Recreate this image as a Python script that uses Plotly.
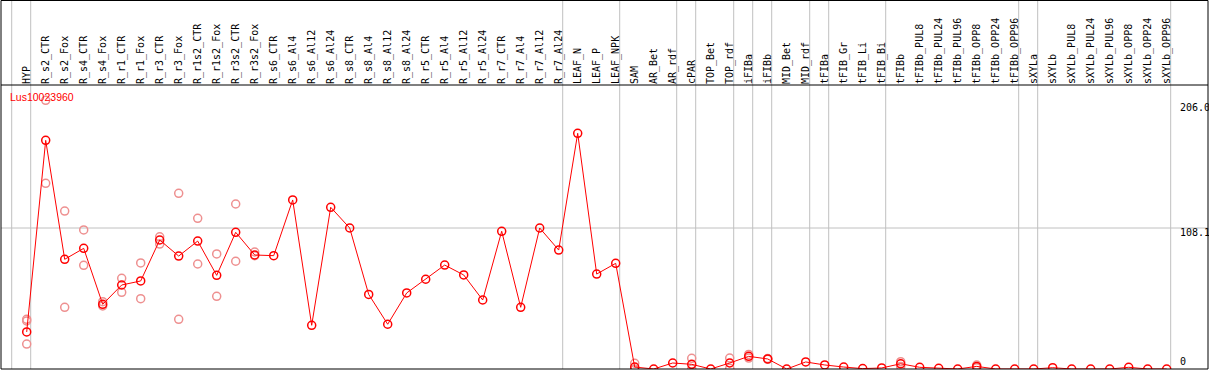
import plotly.graph_objects as go

# ---------------- data ----------------
categories = [
    "HYP",
    "R_s2_CTR", "R_s2_Fox", "R_s4_CTR", "R_s4_Fox", "R_r1_CTR", "R_r1_Fox",
    "R_r3_CTR", "R_r3_Fox", "R_r1s2_CTR", "R_r1s2_Fox", "R_r3s2_CTR", "R_r3s2_Fox",
    "R_s6_CTR", "R_s6_Al4", "R_s6_Al12", "R_s6_Al24",
    "R_s8_CTR", "R_s8_Al4", "R_s8_Al12", "R_s8_Al24",
    "R_r5_CTR", "R_r5_Al4", "R_r5_Al12", "R_r5_Al24",
    "R_r7_CTR", "R_r7_Al4", "R_r7_Al12", "R_r7_Al24",
    "LEAF_N", "LEAF_P", "LEAF_NPK",
    "SAM", "AR_Bet", "AR_rdf",
    "cPAR",
    "TOP_Bet", "TOP_rdf",
    "iFIBa",
    "iFIBb",
    "MID_Bet", "MID_rdf",
    "tFIBa",
    "tFIB_Gr", "tFIB_Li", "tFIB_Bi",
    "tFIBb", "tFIBb_PUL8", "tFIBb_PUL24", "tFIBb_PUL96", "tFIBb_OPP8", "tFIBb_OPP24", "tFIBb_OPP96",
    "sXYLa",
    "sXYLb", "sXYLb_PUL8", "sXYLb_PUL24", "sXYLb_PUL96", "sXYLb_OPP8", "sXYLb_OPP24", "sXYLb_OPP96",
]

mean_values = [
    28.4,
    175.3, 84.1, 92.5, 49.6, 64.4, 67.5,
    98.9, 86.6, 98.1, 71.8, 104.8, 87.4,
    86.9, 129.6, 33.5, 124.0,
    108.1, 57.2, 34.3, 58.3,
    68.8, 79.7, 72.1, 52.9,
    105.6, 47.3, 108.1, 91.2,
    180.7, 72.8, 81.0,
    1.5, 0.0, 4.6,
    3.6,
    0.0, 4.6,
    9.7,
    7.7,
    0.0, 5.4,
    3.1,
    1.5, 0.3, 0.8,
    4.0, 1.3, 0.5, 0.0, 2.0, 0.0, 0.0,
    0.0,
    1.0, 0.0, 0.0, 0.0, 1.3, 0.0, 0.0,
]

rep_categories = [
    "HYP", "HYP", "HYP",
    "R_s2_CTR", "R_s2_CTR",
    "R_s2_Fox", "R_s2_Fox",
    "R_s4_CTR", "R_s4_CTR",
    "R_s4_Fox", "R_s4_Fox",
    "R_r1_CTR", "R_r1_CTR",
    "R_r1_Fox", "R_r1_Fox",
    "R_r3_CTR", "R_r3_CTR",
    "R_r3_Fox", "R_r3_Fox",
    "R_r1s2_CTR", "R_r1s2_CTR",
    "R_r1s2_Fox", "R_r1s2_Fox",
    "R_r3s2_CTR", "R_r3s2_CTR",
    "R_r3s2_Fox", "R_r3s2_Fox",
    "SAM", "SAM",
    "cPAR", "cPAR",
    "TOP_rdf", "TOP_rdf",
    "iFIBa", "iFIBa",
    "iFIBb", "iFIBb",
    "tFIBb", "tFIBb",
    "tFIBb_OPP8", "tFIBb_OPP8",
]
rep_values = [
    38.1, 36.8, 19.1,
    206.0, 142.4,
    121.1, 47.3,
    106.6, 79.5,
    51.6, 48.3,
    69.5, 58.8,
    81.3, 53.9,
    101.4, 95.8,
    134.7, 38.1,
    115.5, 80.5,
    88.2, 55.7,
    126.5, 82.6,
    89.7, 86.9,
    4.4, 0.0,
    8.2, 0.0,
    8.4, 0.5,
    11.2, 8.4,
    8.0, 7.4,
    5.6, 2.0,
    3.0, 1.0,
]

group_sizes = [1, 28, 3, 3, 1, 2, 1, 1, 2, 1, 3, 7, 1, 7]
gene_id = "Lus10023960"
ref_values = [206.0, 108.1, 0]
ref_labels = ["206.0", "108.1", "0"]
ref_label_shift = [-6.7, -4.5, 7.3]

# ---------------- layout geometry ----------------
W, H = 1209, 370
M_L, M_R, M_T, M_B = 1, 1, 85, 1
X_RANGE = [-1.3526, 62.174]
Y_RANGE = [0, 217.74]
plot_w = W - M_L - M_R
plot_h = H - M_T - M_B
top_paper = 1 + (M_T - 0.5) / plot_h

FONT = "DejaVu Sans Mono"
GRAY = "#c0c0c0"
RED = "#ff0000"
FADED = "#ee9090"

fig = go.Figure()

fig.add_trace(go.Scatter(
    x=rep_categories, y=rep_values, mode="markers",
    marker=dict(symbol="circle-open", size=8, color=FADED, line=dict(width=1.5, color=FADED)),
    hoverinfo="skip", showlegend=False,
))
fig.add_trace(go.Scatter(
    x=categories, y=mean_values, mode="lines+markers",
    line=dict(color=RED, width=1),
    marker=dict(symbol="circle-open", size=8, color=RED, line=dict(width=1.5, color=RED)),
    showlegend=False,
))

shapes = []
ends = [-1]
acc = 0
for g in group_sizes:
    acc += g
    ends.append(acc - 1)
for e in ends:
    shapes.append(dict(type="line", xref="x", yref="paper", x0=e + 0.21, x1=e + 0.21,
                       y0=0, y1=top_paper, line=dict(color=GRAY, width=1), layer="below"))
shapes.append(dict(type="line", xref="paper", yref="y", x0=0, x1=1, y0=ref_values[1], y1=ref_values[1],
                   line=dict(color=GRAY, width=1), layer="below"))
shapes.append(dict(type="line", xref="paper", yref="paper", x0=0, x1=1, y0=1, y1=1,
                   line=dict(color="black", width=1), layer="above"))
shapes.append(dict(type="rect", xref="paper", yref="paper", x0=0, x1=1, y0=0, y1=top_paper,
                   line=dict(color="black", width=1), fillcolor="rgba(0,0,0,0)", layer="above"))

annotations = [dict(
    text=gene_id, xref="paper", yref="paper", x=(8 - M_L) / plot_w,
    y=(H - M_B - 97.3) / plot_h, xanchor="left", yanchor="middle", showarrow=False,
    font=dict(family="Liberation Sans", size=10.5, color=RED),
)]
for v, t, s in zip(ref_values, ref_labels, ref_label_shift):
    annotations.append(dict(
        text=t, xref="paper", yref="y", x=(1178 - M_L) / plot_w, y=v,
        xanchor="left", yanchor="middle", yshift=s, showarrow=False,
        font=dict(family=FONT, size=10, color="black"),
    ))

fig.update_layout(
    template="none",
    width=W, height=H,
    margin=dict(l=M_L, r=M_R, t=M_T, b=M_B, pad=0, autoexpand=False),
    paper_bgcolor="white", plot_bgcolor="white",
    xaxis=dict(type="category", categoryorder="array", categoryarray=categories,
               range=X_RANGE, side="top", tickangle=-90, ticks="", showgrid=False,
               zeroline=False, showline=False, automargin=False,
               tickfont=dict(family=FONT, size=10, color="black")),
    yaxis=dict(range=Y_RANGE, showgrid=False, zeroline=False, showline=False,
               showticklabels=False, ticks="", automargin=False),
    shapes=shapes, annotations=annotations,
    showlegend=False,
)

fig.write_html(
    "out.html",
    config={"displayModeBar": False},
    post_script="document.body.style.margin='0';document.body.style.padding='0';",
)
